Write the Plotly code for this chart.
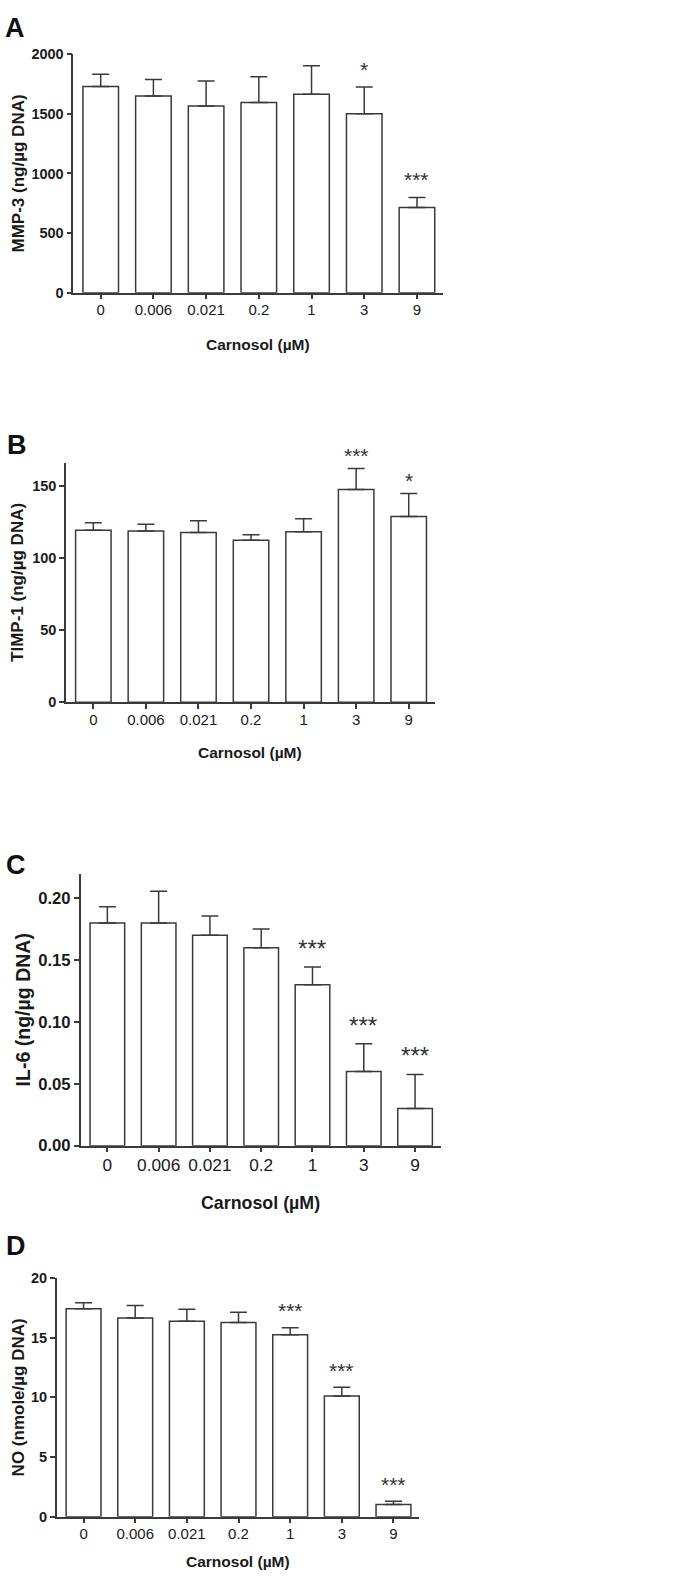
import plotly.graph_objects as go

# ---------------- data ----------------
concentrations = ["0", "0.006", "0.021", "0.2", "1", "3", "9"]

mmp3_mean = [1730, 1650, 1565, 1595, 1665, 1500, 715]
mmp3_sd = [102, 138, 210, 215, 238, 224, 83]
mmp3_stars = ["", "", "", "", "", "*", "***"]

timp1_mean = [119.0, 118.6, 117.6, 112.2, 118.1, 147.3, 128.6]
timp1_sd = [5.3, 4.7, 8.0, 3.8, 8.9, 14.6, 16.0]
timp1_stars = ["", "", "", "", "", "***", "*"]

il6_mean = [0.180, 0.180, 0.170, 0.160, 0.130, 0.060, 0.030]
il6_sd = [0.013, 0.0256, 0.0155, 0.015, 0.0143, 0.0223, 0.0275]
il6_stars = ["", "", "", "", "***", "***", "***"]

no_mean = [17.43, 16.66, 16.38, 16.27, 15.25, 10.11, 1.02]
no_sd = [0.50, 1.05, 1.00, 0.86, 0.58, 0.75, 0.28]
no_stars = ["", "", "", "", "***", "***", "***"]

x_title = "Carnosol (µM)"

# ---------------- layout helpers ----------------
W, H = 693, 1585
FONT = "Arial, 'Liberation Sans', Helvetica, sans-serif"
LINE = "#3a3a3a"
TEXT = "#1a1a1a"


def px_x(p):
    return p / W


def px_y(p):
    return 1 - p / H


panels = [
    dict(letter="A", mean=mmp3_mean, sd=mmp3_sd, stars=mmp3_stars,
         ytitle="MMP-3 (ng/µg DNA)", yrange=[0, 2000],
         ytickvals=[0, 500, 1000, 1500, 2000], yfmt="d",
         left=73.3, right=443.3, top=46.7, bottom=288.0,
         letter_xy=(3, 8), ytitle_x=18, xtitle_y=340, scale=1.0, star_shift=4.5),
    dict(letter="B", mean=timp1_mean, sd=timp1_sd, stars=timp1_stars,
         ytitle="TIMP-1 (ng/µg DNA)", yrange=[0, 165.3],
         ytickvals=[0, 50, 100, 150], yfmt="d",
         left=66.0, right=435.0, top=460.7, bottom=702.3,
         letter_xy=(5, 430), ytitle_x=18, xtitle_y=753.3, scale=1.0, star_shift=-0.5),
    dict(letter="C", mean=il6_mean, sd=il6_sd, stars=il6_stars,
         ytitle="IL-6 (ng/µg DNA)", yrange=[0, 0.2197],
         ytickvals=[0, 0.05, 0.10, 0.15, 0.20], yfmt=".2f",
         left=80.7, right=440.7, top=875.7, bottom=1150.7,
         letter_xy=(4, 855), ytitle_x=22.7, xtitle_y=1209, scale=1.15, star_shift=3),
    dict(letter="D", mean=no_mean, sd=no_sd, stars=no_stars,
         ytitle="NO (nmole/µg DNA)", yrange=[0, 20],
         ytickvals=[0, 5, 10, 15, 20], yfmt="d",
         left=56.7, right=419.3, top=1284.7, bottom=1526.0,
         letter_xy=(4, 1240), ytitle_x=18, xtitle_y=1571.7, scale=1.0, star_shift=3.5),
]

fig = go.Figure()
annotations = []
layout = dict(
    width=W, height=H,
    margin=dict(l=0, r=0, t=0, b=0),
    paper_bgcolor="white", plot_bgcolor="white",
    showlegend=False,
    font=dict(family=FONT, color=TEXT),
)

for i, p in enumerate(panels):
    n = "" if i == 0 else str(i + 1)
    xa, ya = "x" + n, "y" + n
    s = p["scale"]
    fig.add_trace(go.Bar(
        x=concentrations, y=p["mean"], xaxis=xa, yaxis=ya,
        marker=dict(color="white", line=dict(color=LINE, width=1.5)),
        width=0.675,
        error_y=dict(type="data", array=p["sd"], symmetric=False,
                     arrayminus=[0] * len(p["sd"]),
                     color=LINE, thickness=1.5, width=8.5),
        hoverinfo="skip",
    ))
    common = dict(showgrid=False, zeroline=False, showline=True,
                  linecolor=LINE, linewidth=1.5, ticks="outside",
                  ticklen=5, tickwidth=1.5, tickcolor=LINE)
    layout["xaxis" + n] = dict(
        domain=[px_x(p["left"]), px_x(p["right"])],
        anchor=ya, type="category", range=[-0.52, 6.5],
        categoryorder="array", categoryarray=concentrations,
        tickfont=dict(size=15 * s, color=TEXT, family=FONT),
        ticklabelstandoff=-2,
        **common)
    layout["yaxis" + n] = dict(
        domain=[px_y(p["bottom"]), px_y(p["top"])],
        anchor=xa, range=p["yrange"], tickvals=p["ytickvals"],
        tickformat=p["yfmt"],
        tickfont=dict(size=14.5 * s, color=TEXT, family=FONT, weight="bold"),
        **common)

    # panel letter (y given at the cap top, box starts a few px above)
    annotations.append(dict(
        text="<b>%s</b>" % p["letter"], xref="paper", yref="paper",
        x=px_x(p["letter_xy"][0]), y=px_y(p["letter_xy"][1] - 5),
        xanchor="left", yanchor="top", showarrow=False,
        font=dict(size=27, color="#111111", family=FONT)))
    # y title
    annotations.append(dict(
        text="<b>%s</b>" % p["ytitle"], xref="paper", yref="paper",
        x=px_x(p["ytitle_x"]), y=px_y((p["top"] + p["bottom"]) / 2),
        xanchor="center", yanchor="middle", textangle=-90, showarrow=False,
        font=dict(size=17 * s, color=TEXT, family=FONT)))
    # x title
    annotations.append(dict(
        text="<b>%s</b>" % x_title, xref="paper", yref="paper",
        x=px_x((p["left"] + p["right"]) / 2), y=px_y(p["xtitle_y"]),
        xanchor="center", yanchor="middle", showarrow=False,
        font=dict(size=15.5 * s, color=TEXT, family=FONT)))
    # significance stars (x given as category index)
    for k, (m, e, st) in enumerate(zip(p["mean"], p["sd"], p["stars"])):
        if st:
            annotations.append(dict(
                text=st, xref=xa, yref=ya, x=k, y=m + e,
                xanchor="center", yanchor="bottom", yshift=p["star_shift"],
                showarrow=False,
                font=dict(size=21 * s, color="#333333", family=FONT)))

layout["annotations"] = annotations
fig.update_layout(**layout)
# remove the browser's default body margin so the figure sits at the page origin
fig.write_html("out.html", config={"displayModeBar": False},
               post_script="document.body.style.margin='0';")
